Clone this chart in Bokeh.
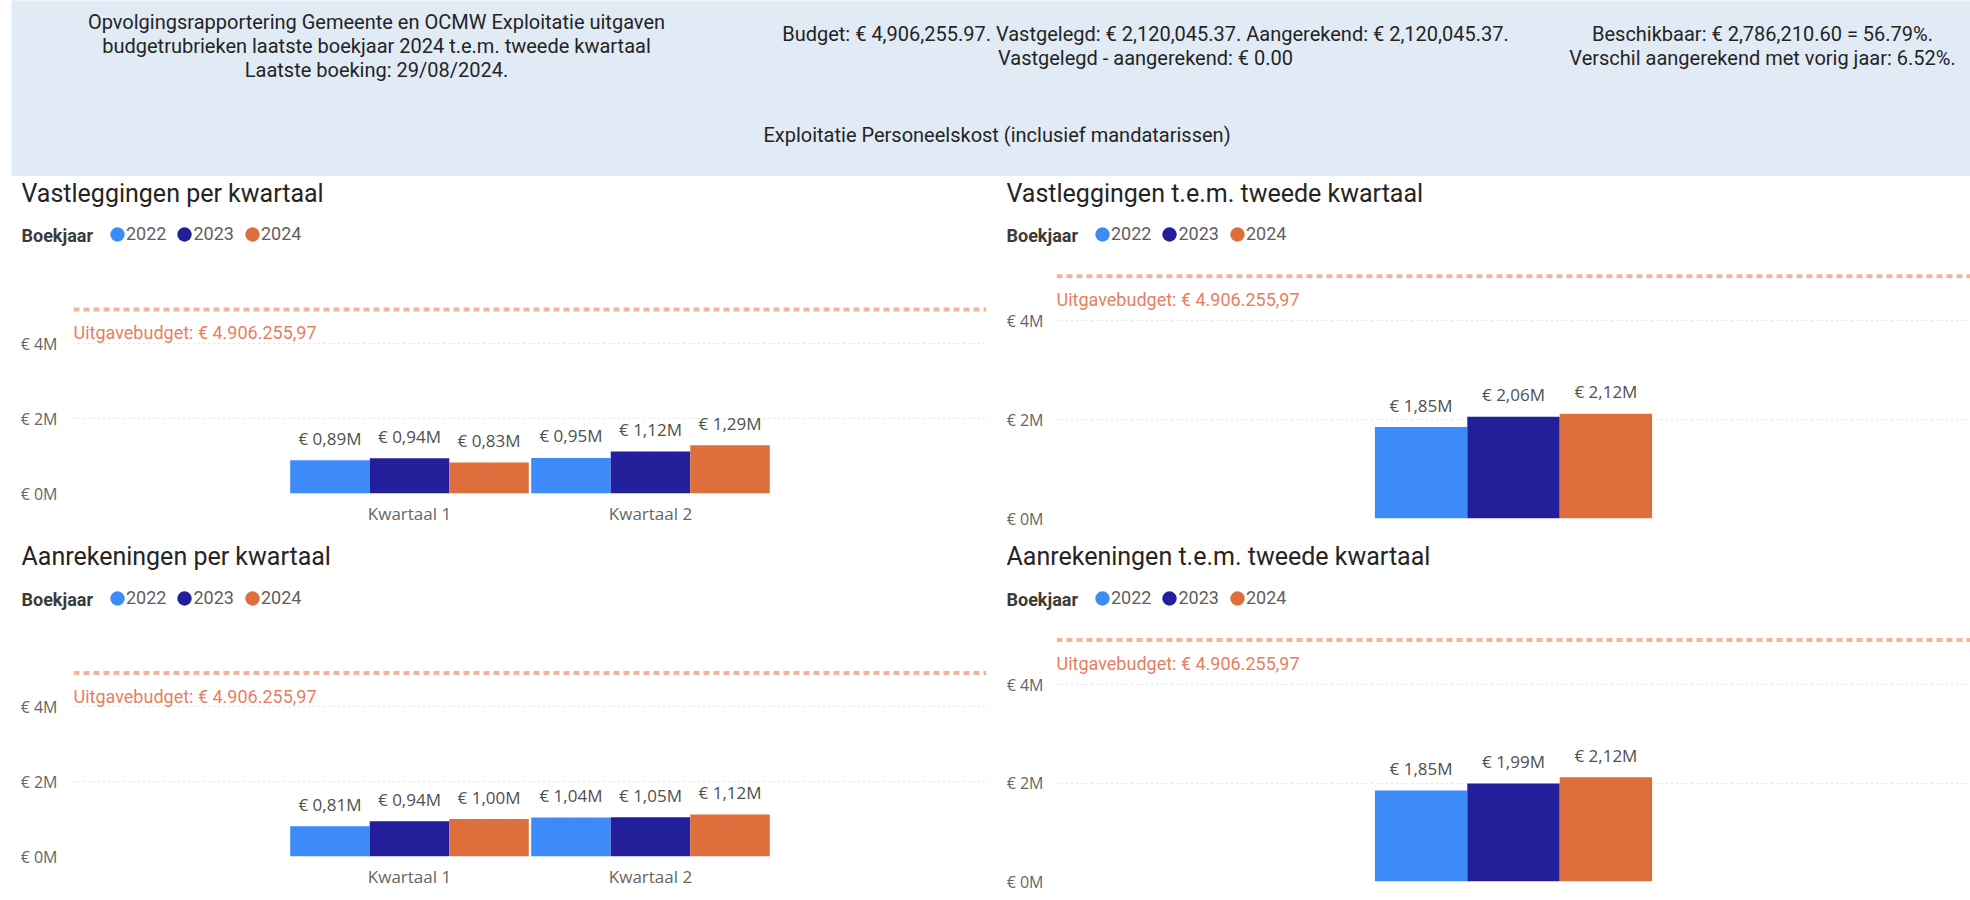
from bokeh.plotting import figure
from bokeh.models import (Range1d, FactorRange, FixedTicker, CustomJSTickFormatter, Span,
                          Label, LabelSet, ColumnDataSource, Legend, LegendItem)
from bokeh.layouts import column, row
from bokeh.transform import dodge
from bokeh.core.properties import value
from bokeh.embed import file_html
from bokeh.resources import INLINE

# ---------------- data ----------------
YEARS = ["2022", "2023", "2024"]
COLORS = ["#3D8BF9", "#231F9A", "#DE6F3D"]
QUARTERS = ["Kwartaal 1", "Kwartaal 2"]
TOTAL_CAT = ["t.e.m. tweede kwartaal"]

vast_2022 = [0.89, 0.95]
vast_2023 = [0.94, 1.12]
vast_2024 = [0.83, 1.29]
aan_2022 = [0.81, 1.04]
aan_2023 = [0.94, 1.05]
aan_2024 = [1.00, 1.12]
vast_tot = [1.85, 2.06, 2.12]
aan_tot = [1.85, 1.99, 2.12]
BUDGET = 4906255.97
Y_TICKS = [0, 2, 4]

HEADER_LEFT = ["Opvolgingsrapportering Gemeente en OCMW Exploitatie uitgaven",
               "budgetrubrieken laatste boekjaar 2024 t.e.m. tweede kwartaal",
               "Laatste boeking: 29/08/2024."]
HEADER_MID = ["Budget: € 4,906,255.97. Vastgelegd: € 2,120,045.37. Aangerekend: € 2,120,045.37.",
              "Vastgelegd - aangerekend: € 0.00"]
HEADER_RIGHT = ["Beschikbaar: € 2,786,210.60 = 56.79%.",
                "Verschil aangerekend met vorig jaar: 6.52%."]
HEADER_SUB = "Exploitatie  Personeelskost (inclusief mandatarissen)"

TITLES = ["Vastleggingen per kwartaal", "Vastleggingen t.e.m. tweede kwartaal",
          "Aanrekeningen per kwartaal", "Aanrekeningen t.e.m. tweede kwartaal"]
LEGEND_TITLE = "Boekjaar"


def eur_m(v):
    return "€ " + f"{v:.2f}".replace(".", ",") + "M"


def eur_nl(v):
    s = f"{v:,.2f}"
    return s.replace(",", "X").replace(".", ",").replace("X", ".")


BUDGET_TEXT = "Uitgavebudget: € " + eur_nl(BUDGET)

DIN = "Roboto"
SEG = "Open Sans"
OFFS = [-0.33, 0.0, 0.33]
W = 1970
X0 = 11  # left edge of the page band


def chart(cats, series, fig_left, fig_top, fig_w, fig_h, frame_left, frame_right,
          frame_bottom, ppm, unit_px, show_x, standoff):
    bl = frame_left - fig_left
    br = fig_left + fig_w - frame_right
    bb = fig_top + fig_h - frame_bottom
    fw = frame_right - frame_left
    fh = frame_bottom - fig_top
    y_end = fh / ppm
    pad = (fw / unit_px - len(cats)) / 2.0
    p = figure(width=fig_w, height=fig_h,
               x_range=FactorRange(factors=cats, range_padding=pad, range_padding_units="absolute"),
               y_range=Range1d(0, y_end),
               x_axis_location="below" if show_x else None,
               output_backend="svg", toolbar_location=None,
               min_border_left=bl, min_border_right=br, min_border_bottom=bb, min_border_top=0,
               outline_line_color=None, background_fill_color="white", border_fill_color="white")
    p.yaxis.ticker = FixedTicker(ticks=Y_TICKS)
    p.yaxis.formatter = CustomJSTickFormatter(code="return '\u20ac ' + tick + 'M';")
    p.yaxis.axis_line_color = None
    p.yaxis.major_tick_line_color = None
    p.yaxis.minor_tick_line_color = None
    p.yaxis.major_tick_out = 0
    p.yaxis.major_tick_in = 0
    p.yaxis.major_label_standoff = standoff
    p.yaxis.major_label_text_font = SEG
    p.yaxis.major_label_text_font_size = "16px"
    p.yaxis.major_label_text_color = "#666666"
    p.ygrid.grid_line_color = "#C8C8C8"
    p.ygrid.grid_line_dash = "1 4"
    p.ygrid.grid_line_width = 1
    p.xgrid.visible = False
    if show_x:
        p.xaxis.axis_line_color = None
        p.xaxis.major_tick_line_color = None
        p.xaxis.minor_tick_line_color = None
        p.xaxis.major_tick_out = 0
        p.xaxis.major_tick_in = 0
        p.xaxis.major_label_standoff = 8
        p.xaxis.major_label_text_font = SEG
        p.xaxis.major_label_text_font_size = "17px"
        p.xaxis.major_label_text_color = "#666666"

    srcs = []
    for yr, col, vals, off in zip(YEARS, COLORS, series, OFFS):
        src = ColumnDataSource(dict(cat=cats, v=vals, lab=[eur_m(v) for v in vals]))
        srcs.append(src)
        p.vbar(x=dodge("cat", off, range=p.x_range), top="v", width=0.33, source=src,
               fill_color=col, line_color=None)
        p.add_layout(LabelSet(x=dodge("cat", off, range=p.x_range), y="v", text="lab", source=src,
                              text_align="center", text_baseline="middle", y_offset=22,
                              text_font=value(SEG), text_font_size="17px",
                              text_color="#505050"))

    bm = BUDGET / 1e6
    p.add_layout(Span(location=bm, dimension="width", line_color="#F2B59C",
                      line_width=4, line_dash="6 4"))
    p.add_layout(Label(x=0, x_units="screen", y=bm, y_units="data", y_offset=-23,
                       text=BUDGET_TEXT, text_font=DIN, text_font_size="18px",
                       text_color="#E67F62", text_baseline="middle", text_align="left"))
    return p, srcs


def title_row(fig_top, fig_h, specs):
    """specs: list of (title, srcs, text_left, title_y, legend_y)"""
    # legend proxies sit below the visible y-range, only their legend swatches show
    t = figure(width=W, height=fig_h, x_range=FactorRange(factors=QUARTERS + TOTAL_CAT),
               y_range=Range1d(-2, -1),
               x_axis_type=None, y_axis_type=None, output_backend="svg", toolbar_location=None,
               min_border_left=X0, min_border_right=0, min_border_top=0, min_border_bottom=0,
               outline_line_color=None, background_fill_color="white", border_fill_color="white")
    t.grid.visible = False
    for title, srcs, text_left, title_y, legend_y in specs:
        tx = text_left - X0
        t.add_layout(Label(x=tx, y=fig_h - (title_y - fig_top), x_units="screen",
                           y_units="screen", text=title, text_font=DIN, text_font_size="25px",
                           text_color="#252423", text_baseline="middle"))
        ly = fig_h - (legend_y - fig_top)
        t.add_layout(Label(x=tx, y=ly, x_units="screen", y_units="screen", text=LEGEND_TITLE,
                           text_font=DIN, text_font_size="18px", text_font_style="bold",
                           text_color="#3B3A39", text_baseline="middle"))
        items = []
        for yr, col, src in zip(YEARS, COLORS, srcs):
            r = t.ellipse(x="cat", y="v", width=1, height=1,
                          width_units="screen", height_units="screen", source=src,
                          fill_color=col, line_color=None)
            items.append(LegendItem(label=yr, renderers=[r]))
        leg = Legend(items=items, orientation="horizontal", location=(tx + 87, ly - 9),
                     glyph_width=18, glyph_height=18, label_height=18, label_standoff=0,
                     spacing=9, padding=0, margin=0, border_line_color=None,
                     background_fill_alpha=0, label_text_font=DIN, label_text_font_size="18px",
                     label_text_color="#605E5C")
        t.add_layout(leg)
    return t


# ---------------- header ----------------
hdr = figure(width=W, height=176, x_range=Range1d(0, 1), y_range=Range1d(0, 1),
             x_axis_type=None, y_axis_type=None, output_backend="svg", toolbar_location=None,
             min_border_left=X0, min_border_right=0, min_border_top=0, min_border_bottom=0,
             background_fill_color="#E1EBF6", border_fill_color="white", outline_line_color=None)
hdr.grid.visible = False
HY1 = 176


def hlabel(text, px, py):
    hdr.add_layout(Label(x=px - X0, y=HY1 - py, x_units="screen", y_units="screen", text=text,
                         text_font=DIN, text_font_size="20px", text_color="#252423",
                         text_align="center", text_baseline="middle"))


for i, t in enumerate(HEADER_LEFT):
    hlabel(t, 376, 21.5 + 24 * i)
for i, t in enumerate(HEADER_MID):
    hlabel(t, 1145, 33.5 + 24 * i)
for i, t in enumerate(HEADER_RIGHT):
    hlabel(t, 1762, 33.5 + 24 * i)
hlabel(HEADER_SUB, 999, 134)

# ---------------- panels ----------------
LW, RW = 996, 974
TOP_T, TOP_C, BOT_T, BOT_C, END = 176, 258, 530, 622, 900

tl, tl_s = chart(QUARTERS, [vast_2022, vast_2023, vast_2024], 0, TOP_C, LW, BOT_T - TOP_C,
                 73, 986, 493, 37.5, 241, True, 16)
bl, bl_s = chart(QUARTERS, [aan_2022, aan_2023, aan_2024], 0, BOT_C, LW, END - BOT_C,
                 73, 986, 856, 37.4, 241, True, 16)
tr, tr_s = chart(TOTAL_CAT, [[v] for v in vast_tot], LW, TOP_C, RW, BOT_T - TOP_C,
                 1056, 1970, 518, 49.4, 280, False, 13)
br, br_s = chart(TOTAL_CAT, [[v] for v in aan_tot], LW, BOT_C, RW, END - BOT_C,
                 1056, 1970, 881, 49.2, 280, False, 13)

top_titles = title_row(TOP_T, TOP_C - TOP_T,
                       [(TITLES[0], tl_s, 21, 193, 235), (TITLES[1], tr_s, 1006, 193, 235)])
bot_titles = title_row(BOT_T, BOT_C - BOT_T,
                       [(TITLES[2], bl_s, 21, 556, 599), (TITLES[3], br_s, 1006, 556, 599)])

layout = column(hdr, top_titles, row(column(tl), column(tr)),
                bot_titles, row(column(bl), column(br)))

open("out.html", "w", encoding="utf-8").write(file_html(layout, INLINE))
